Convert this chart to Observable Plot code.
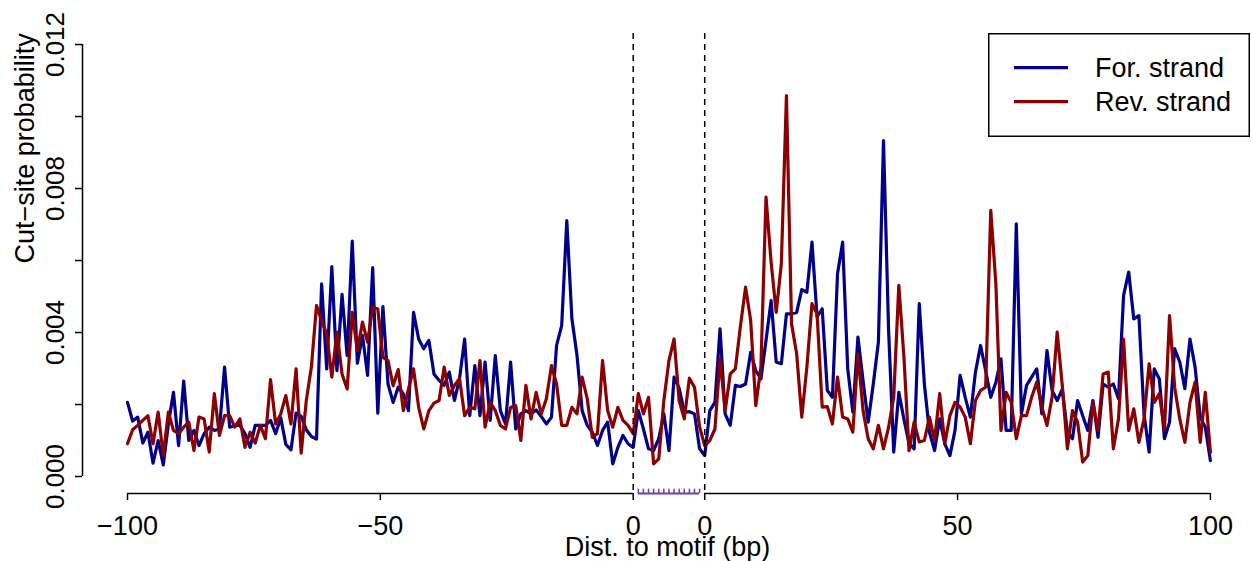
<!DOCTYPE html>
<html>
<head>
<meta charset="utf-8">
<script src="https://cdn.jsdelivr.net/npm/d3@7"></script>
<script src="https://cdn.jsdelivr.net/npm/@observablehq/plot@0.6"></script>
<style>
  html, body { margin: 0; padding: 0; background: white; }
  #wrap { position: relative; width: 1252px; height: 561px; font-family: "Liberation Sans", Arial, Helvetica, sans-serif; }
  #legend { position: absolute; left: 988px; top: 33px; }
</style>
</head>
<body>
<div id="wrap"><div id="chart"></div><div id="legend"></div></div>
<script>
// Cut-site probabilities (units of 1e-3), positions 1..213 (100 bp upstream, 13 bp motif, 100 bp downstream)
const forwardStrand = [
2.06,1.54,1.65,0.93,1.23,0.37,1.0,0.32,1.46,2.34,0.86,2.65,1.0,1.28,0.86,1.19,1.37,1.28,1.32,3.04,
1.37,1.42,1.42,1.19,0.81,1.42,1.42,1.42,1.56,1.19,1.63,0.89,0.74,1.76,1.67,1.3,1.11,1.04,5.35,2.99,
5.83,2.94,5.06,3.36,6.54,3.15,3.92,2.81,5.8,1.76,4.72,2.57,2.06,2.48,2.30,1.83,4.56,3.82,3.55,3.78,
2.85,2.67,2.53,2.9,2.11,2.72,3.82,1.69,3.08,1.69,3.18,1.56,3.36,1.83,1.46,3.18,1.32,1.74,1.83,1.74,
1.85,1.67,1.46,1.65,3.64,4.19,7.11,4.38,3.36,1.83,1.42,1.23,0.86,1.28,1.51,0.35,0.81,1.14,0.91,0.81,
1.83,1.32,0.77,0.72,1.05,1.74,0.72,2.76,2.45,1.79,1.8,1.74,0.77,0.58,1.83,2.06,4.10,1.74,1.42,2.53,
2.5,2.57,3.45,2.94,2.71,3.78,4.89,3.18,3.13,4.52,4.52,4.56,5.19,5.12,6.51,4.43,4.66,2.39,2.2,5.63,
6.51,2.99,1.79,3.87,2.66,1.51,2.57,3.73,9.33,4.06,0.68,2.34,1.59,0.91,0.77,4.8,2.57,1.23,0.72,1.6,
0.91,0.58,1.28,2.81,2.2,1.65,2.9,3.64,2.94,2.2,2.62,3.27,1.28,1.28,7.02,1.74,2.53,2.76,2.99,1.74,
3.5,2.39,2.11,2.43,1.23,1.05,2.11,1.69,1.28,2.11,1.09,2.57,2.48,2.57,2.16,5.03,5.68,4.38,4.47,1.74,
0.68,2.99,2.71,1.05,1.51,3.55,3.18,2.44,3.82,3.04,1.65,1.37,0.44
];
const reverseStrand = [
0.91,1.3,1.42,1.56,1.69,0.91,1.79,0.58,1.79,1.28,1.19,1.37,1.51,0.72,1.65,1.6,0.68,2.3,1.14,1.69,
1.69,1.37,1.6,0.81,1.23,0.93,1.42,1.05,2.69,1.46,1.74,2.25,1.46,2.99,0.65,2.11,3.04,4.75,4.33,3.96,
2.76,4.01,2.85,2.43,4.56,3.5,4.29,3.73,4.7,4.65,3.31,3.22,2.52,2.97,1.83,2.43,2.99,1.92,1.32,1.83,
2.04,2.11,3.04,2.25,2.53,2.72,1.69,1.92,1.88,3.22,1.37,2.06,1.83,1.42,1.32,1.92,1.97,1.0,2.53,1.6,
2.34,1.74,2.16,3.08,2.57,1.42,1.42,1.92,1.74,2.76,2.16,1.09,1.19,3.22,1.83,1.37,1.92,1.56,1.42,1.19,
2.3,1.74,2.2,0.35,0.49,2.11,3.22,3.82,2.1,1.6,2.73,2.48,1.37,0.86,1.0,1.32,3.27,1.83,2.85,2.99,
4.19,5.26,4.33,1.97,3.04,7.76,5.95,4.56,5.91,10.58,4.24,3.41,1.65,3.04,4.8,4.52,1.93,1.94,1.46,2.76,
1.65,1.6,1.23,3.41,1.83,1.05,0.77,1.42,0.77,1.37,2.2,5.31,3.32,0.72,1.51,0.96,1.0,1.65,1.0,2.3,
0.91,1.69,2.06,1.93,1.65,0.91,2.11,2.39,2.48,7.39,5.35,1.28,2.34,2.06,1.05,1.69,1.69,2.2,2.62,1.93,
1.42,2.2,4.01,2.53,0.77,1.83,1.51,0.4,0.58,2.06,1.28,2.85,2.9,0.77,1.6,3.82,1.28,1.88,0.95,1.6,
3.13,2.06,2.3,1.28,4.47,2.48,1.6,0.95,2.06,2.62,0.95,2.34,0.67
];
const flankWidth = 100;
const motifLength = 13;
const motifSites = d3.range(flankWidth + 1, flankWidth + motifLength + 1);          // 101..113
const motifEdges = [flankWidth, flankWidth + motifLength + 1];                        // 100, 114
const xTickPositions = [1, 50.5, 100, 114, 163.5, 213];
const xTickLabels = ["\u2212100", "\u221250", "0", "0", "50", "100"];
const yTicks = [0, 0.002, 0.004, 0.006, 0.008, 0.010, 0.012];
const yTickLabels = ["0.000", "", "0.004", "", "0.008", "", "0.012"];
const seriesNames = ["For. strand", "Rev. strand"];
const seriesColors = ["#00008B", "#8B0000"];
const xLabel = "Dist. to motif (bp)";
const yLabel = "Cut\u2212site probability";

const rows = (arr, s) => arr.map((v, i) => ({pos: i + 1, value: v / 1000, strand: s}));
const forData = rows(forwardStrand, seriesNames[0]);
const revData = rows(reverseStrand, seriesNames[1]);

const xDomain = [-7.81, 221.24];
const yDomain = [-0.000472, 0.012306];
const yBottom = yDomain[0];
const xLabelMap = new Map(xTickPositions.map((p, i) => [p, xTickLabels[i]]));
const yLabelMap = new Map(yTicks.map((t, i) => [t, yTickLabels[i]]));
const FS = 27;

const chart = Plot.plot({
  width: 1252,
  height: 561,
  marginLeft: 82,
  marginRight: 0,
  marginTop: 33,
  marginBottom: 68,
  x: {domain: xDomain},
  y: {domain: yDomain},
  style: {fontFamily: "Liberation Sans, Arial, Helvetica, sans-serif", fontSize: FS + "px", background: "white", color: "black", overflow: "visible"},
  marks: [
    Plot.line(forData, {x: "pos", y: "value", stroke: seriesColors[0], strokeWidth: 3.2, strokeLinejoin: "round"}),
    Plot.line(revData, {x: "pos", y: "value", stroke: seriesColors[1], strokeWidth: 3.2, strokeLinejoin: "round"}),
    Plot.ruleX(motifEdges, {stroke: "black", strokeWidth: 1.5, strokeDasharray: "6,5"}),
    // y axis line + ticks
    Plot.ruleX([xDomain[0]], {y1: yTicks[0], y2: yTicks[yTicks.length - 1], stroke: "black", strokeWidth: 1.5}),
    Plot.axisY(yTicks, {tickSize: 7, tickPadding: 12, tickRotate: -90, tickFormat: d => yLabelMap.get(d), label: null, strokeWidth: 1.5, fontSize: 26}),
    // x axis lines (two flanks)
    Plot.ruleY([yBottom], {x1: xTickPositions[0], x2: xTickPositions[2], stroke: "black", strokeWidth: 1.5}),
    Plot.ruleY([yBottom], {x1: xTickPositions[3], x2: xTickPositions[5], stroke: "black", strokeWidth: 1.5}),
    Plot.axisX(xTickPositions, {tickSize: 7, tickPadding: 15, tickFormat: d => xLabelMap.get(d), label: null, strokeWidth: 1.5, fontSize: FS}),
    // motif axis (purple)
    Plot.ruleY([yBottom], {x1: motifSites[0], x2: motifSites[motifSites.length - 1], stroke: "#6E3CB4", strokeWidth: 2}),
    Plot.ruleX(motifSites, {y1: yBottom, y2: yBottom + 0.00012, stroke: "#6E3CB4", strokeWidth: 1.5}),
    // axis titles
    Plot.text([yLabel], {frameAnchor: "left", rotate: -90, dx: -49, lineAnchor: "bottom", fontSize: FS}),
    Plot.text([xLabel], {frameAnchor: "bottom", dy: 62, lineAnchor: "bottom", fontSize: FS})
  ]
});
document.getElementById("chart").appendChild(chart);

// legend box
const lw = 262, lh = 104;
const leg = d3.select("#legend").append("svg").attr("width", lw).attr("height", lh)
  .style("font-family", "Liberation Sans, Arial, Helvetica, sans-serif").style("font-size", FS + "px");
leg.append("rect").attr("x", 0.75).attr("y", 0.75).attr("width", lw - 1.5).attr("height", lh - 1.5)
  .attr("fill", "white").attr("stroke", "black").attr("stroke-width", 1.5);
seriesNames.forEach((name, i) => {
  const cy = 34.7 + i * 34;
  leg.append("line").attr("x1", 26).attr("x2", 80).attr("y1", cy).attr("y2", cy)
    .attr("stroke", seriesColors[i]).attr("stroke-width", 3.2);
  leg.append("text").attr("x", 107).attr("y", cy + 9.5).text(name);
});
</script>
</body>
</html>
